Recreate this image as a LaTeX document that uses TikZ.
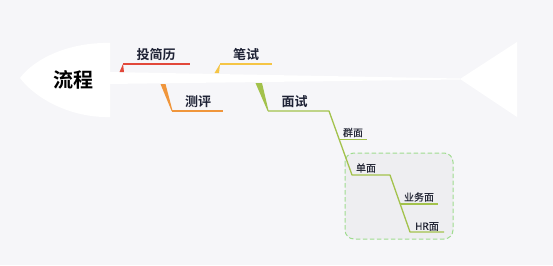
\documentclass[tikz,border=0pt]{standalone}
\usepackage{fontspec}
\setmainfont{Noto Sans CJK SC}
\newfontfamily\cjkb{Noto Sans CJK SC Bold}
\newfontfamily\cjkm[FakeBold=0.25]{Noto Sans CJK SC}
\definecolor{bg}{HTML}{F6F6F9}
\definecolor{boxfill}{HTML}{EEEEF1}
\definecolor{boxline}{HTML}{9FDC8F}
\definecolor{cred}{HTML}{E2483A}
\definecolor{cyel}{HTML}{F5C545}
\definecolor{corg}{HTML}{F0963C}
\definecolor{cgrn}{HTML}{A3C24C}
\definecolor{txt}{HTML}{1E2235}
\definecolor{subtxt}{HTML}{262938}
\tikzset{
  mainlbl/.style={font=\cjkb\fontsize{13}{13}\selectfont, text=txt, inner sep=0pt},
  sublbl/.style={font=\cjkm\fontsize{10}{10}\selectfont, text=subtxt, inner sep=0pt},
  bone/.style={line width=1.3pt},
}
\begin{document}
\begin{tikzpicture}[x=1pt,y=-1pt]
\fill[bg] (0,0) rectangle (553,265);
\useasboundingbox (0,0) rectangle (553,265);
% head
\fill[white] (110,43) .. controls (70,42) and (35,58) .. (20,78)
  .. controls (35,98) and (70,118) .. (110,117) -- cycle;
% spine
\fill[white] (108,72) -- (460,78.5) -- (460,79.5) -- (108,84) -- cycle;
% tail
\fill[white] (460,79) -- (517,42) -- (517,117) -- cycle;
% title
\node[font=\cjkb\fontsize{20}{20}\selectfont, text=black, inner sep=0pt] (title) at (73,80) {流程};
% dashed box
\draw[boxline, fill=boxfill, line width=1pt, rounded corners=9pt, dash pattern=on 4.5pt off 2.5pt] (345,153) rectangle (453,239);
% coordinates
\coordinate (r1) at (123,64);
\coordinate (r2) at (190,64);
\coordinate (y1) at (220,64);
\coordinate (y2) at (272,64);
\coordinate (o1) at (172,111);
\coordinate (o2) at (223,111);
\coordinate (g1) at (268,111);
\coordinate (g2) at (329,111);
\coordinate (g3) at (352,175);
\coordinate (g4) at (390,175);
\coordinate (g5) at (410,232);
\coordinate (g6) at (444,232);
\coordinate (q1) at (339.4,139.5);
\coordinate (q2) at (367,139.5);
\coordinate (b1) at (400.4,204);
\coordinate (b2) at (438,204);
% wedges
\fill[cred] (119.5,72) -- (124,72) -- (r1) -- cycle;
\fill[cyel] (214.5,73) -- (219,73) -- (y1) -- cycle;
\fill[corg] (160.5,84) -- (165.5,84) -- (172.6,111) -- (171.6,111) -- cycle;
\fill[cgrn] (255.5,83) -- (262,83) -- (268.6,111) -- (267.6,111) -- cycle;
% horizontal bones
\draw[cred, bone] (r1) -- (r2);
\draw[cyel, bone] (y1) -- (y2);
\draw[corg, bone] (o1) -- (o2);
\draw[cgrn, bone, line join=round] (g1) -- (g2) -- (g3) -- (g4) -- (g5) -- (g6);
\draw[cgrn, bone] (q1) -- (q2);
\draw[cgrn, bone] (b1) -- (b2);
% labels
\node[mainlbl] (l1) at (156,54.5) {投简历};
\node[mainlbl] (l2) at (246,54.5) {笔试};
\node[mainlbl] (l3) at (198,101.5) {测评};
\node[mainlbl] (l4) at (294.5,101.5) {面试};
\node[sublbl] (s1) at (353,132.5) {群面};
\node[sublbl] (s2) at (366,168) {单面};
\node[sublbl] (s3) at (419,197) {业务面};
\node[sublbl] (s4) at (427,226.5) {HR面};
\end{tikzpicture}
\end{document}
